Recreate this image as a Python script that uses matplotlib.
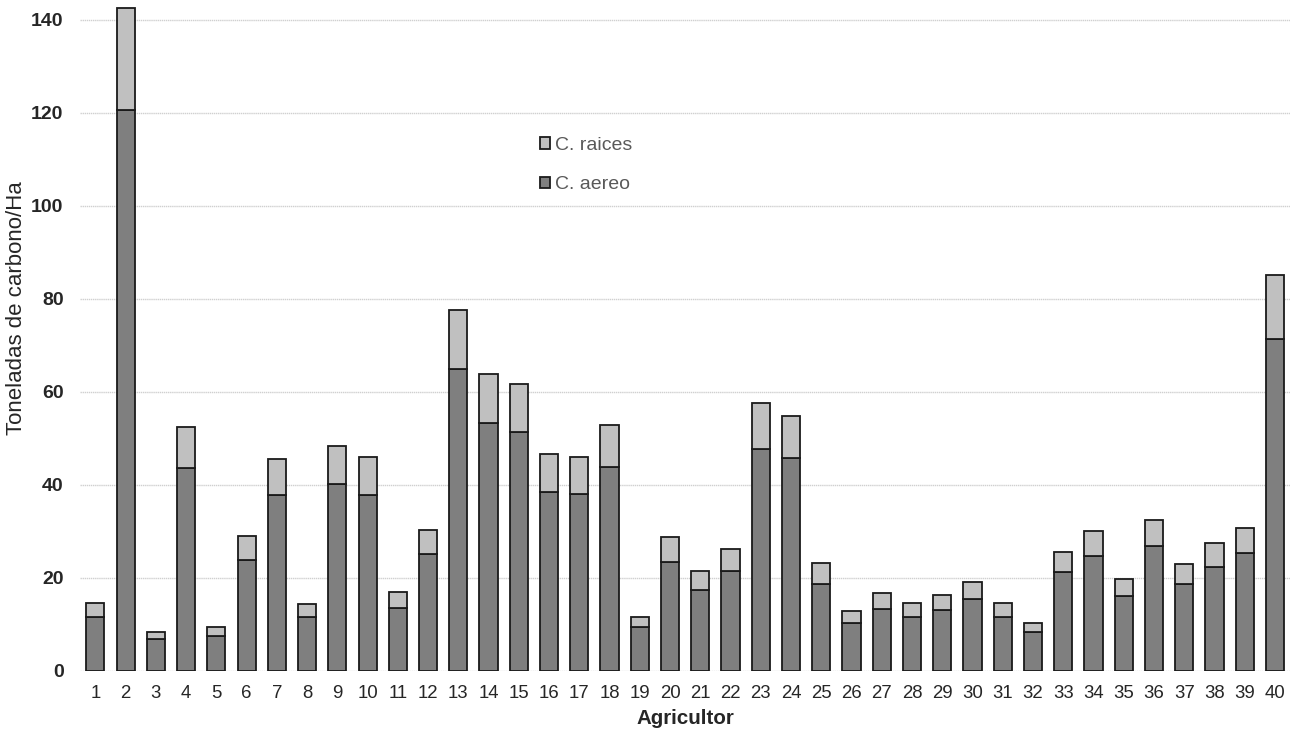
import numpy as np
import matplotlib
matplotlib.use("Agg")
import matplotlib.pyplot as plt

# carbono por agricultor (t/Ha)
agricultores = [str(i) for i in range(1, 41)]
c_aereo = [11.6, 120.6, 6.9, 43.6, 7.5, 23.8, 37.9, 11.6, 40.2, 37.9,
           13.6, 25.1, 65.0, 53.4, 51.3, 38.5, 38.1, 43.8, 9.5, 23.5,
           17.5, 21.4, 47.7, 45.7, 18.8, 10.4, 13.3, 11.5, 13.1, 15.4,
           11.5, 8.3, 21.2, 24.7, 16.1, 26.9, 18.8, 22.3, 25.3, 71.3]
c_total = [14.6, 142.5, 8.3, 52.5, 9.5, 29.0, 45.6, 14.3, 48.3, 45.9,
           17.0, 30.4, 77.6, 63.8, 61.7, 46.6, 46.0, 52.8, 11.5, 28.9,
           21.4, 26.2, 57.6, 54.9, 23.2, 12.8, 16.8, 14.6, 16.3, 19.1,
           14.6, 10.4, 25.6, 30.0, 19.7, 32.5, 22.9, 27.4, 30.8, 85.2]
c_raices = [round(t - a, 1) for t, a in zip(c_total, c_aereo)]

plt.rcParams['font.family'] = ['Liberation Sans', 'DejaVu Sans']
narrow = ['Liberation Sans Narrow', 'Liberation Sans', 'DejaVu Sans']

fig = plt.figure(figsize=(12.94, 7.33), dpi=100)
ax = fig.add_axes([0.062, 0.0846, 0.935, 0.9154])

x = np.arange(1, len(agricultores) + 1)
b1 = ax.bar(x, c_aereo, width=0.6, color='#7f7f7f', edgecolor='#1a1a1a',
            linewidth=1.3, label='C. aereo', zorder=3)
b2 = ax.bar(x, c_raices, width=0.6, bottom=c_aereo, color='#c0c0c0',
            edgecolor='#1a1a1a', linewidth=1.3, label='C. raices', zorder=3)

ax.set_xlim(0.5, 40.5)
ax.set_ylim(0, 144.2)
ax.set_xticks(x)
ax.set_xticklabels(agricultores, fontsize=13.4, color='#262626', family=narrow)
ax.set_yticks(np.arange(0, 141, 20))
ax.set_yticklabels([str(v) for v in range(0, 141, 20)], fontsize=14,
                   fontweight='bold', color='#262626', family=narrow)
ax.tick_params(axis='x', length=0, pad=10)
ax.tick_params(axis='y', length=0, pad=12)

ax.yaxis.grid(True, color='#d0d0d0', linestyle=(0, (1, 0.5)), linewidth=1, zorder=0)
for s in ax.spines.values():
    s.set_visible(False)

ax.set_ylabel('Toneladas de carbono/Ha', fontsize=16, color='#262626')
ax.yaxis.set_label_coords(-0.044, 0.541)
ax.set_xlabel('Agricultor', fontsize=14.8, fontweight='bold', color='#262626', labelpad=5)

leg = ax.legend(handles=[b2, b1], loc='center', bbox_to_anchor=(0.418, 0.754),
                frameon=False, fontsize=14, handlelength=0.55, handleheight=0.55,
                handletextpad=0.25, labelspacing=1.15, labelcolor='#595959')

fig.savefig('out.png', dpi=100)
